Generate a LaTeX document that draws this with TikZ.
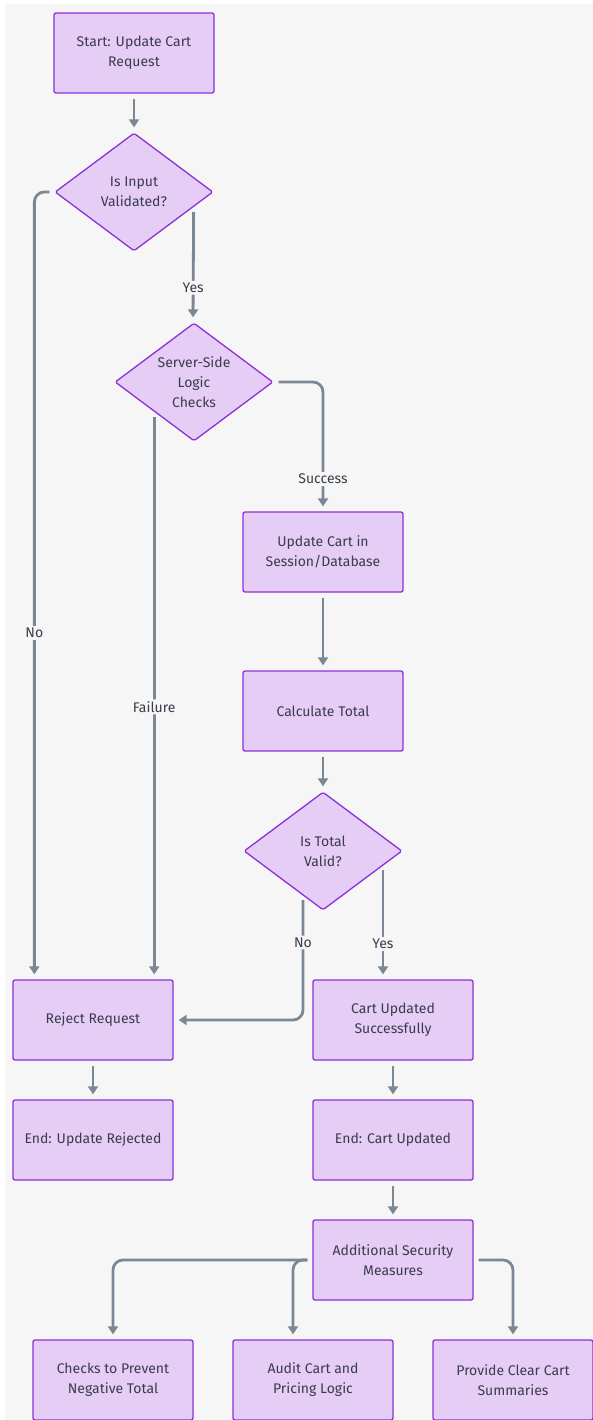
\documentclass[tikz,border=0pt]{standalone}
\usepackage{fontspec}
\setmainfont{Fira Sans}
\usepackage{xcolor}
\usetikzlibrary{shapes.geometric,arrows.meta}
\definecolor{canvas}{HTML}{F6F6F6}
\definecolor{boxfill}{HTML}{E5CDF5}
\definecolor{boxline}{HTML}{8E2FD8}
\definecolor{flowgrey}{HTML}{7B8894}
\definecolor{inkgrey}{HTML}{3A3C4A}

\tikzset{
  stepbox/.style={draw=boxline, fill=boxfill, line width=1.3pt, rounded corners=2pt,
    minimum width=160pt, minimum height=80pt, inner sep=0pt, align=center,
    text=inkgrey, font=\fontsize{14}{20}\selectfont},
  decision/.style={diamond, draw=boxline, fill=boxfill, line width=1.3pt, rounded corners=1.5pt,
    minimum width=158pt, minimum height=118pt, inner sep=0pt, aspect=1.34, align=center,
    text=inkgrey, font=\fontsize{14}{20}\selectfont},
  flow/.style={draw=flowgrey, line width=2.8pt, rounded corners=10pt,
    -{Triangle[width=10pt,length=8pt]}, shorten <=5pt, shorten >=5pt},
  flowlabel/.style={fill=canvas, text=inkgrey, inner sep=2pt, font=\fontsize{14}{16}\selectfont}
}

\begin{document}
\begin{tikzpicture}[x=1pt,y=-1pt]
		\useasboundingbox (0,0) rectangle (593,1420);
		\fill [canvas] (5,4) rectangle (593,1420);
		%
		\node [stepbox] (start) at (134,53) {Start: Update Cart\\Request};
		\node [decision] (valid) at (134,192) {Is Input\\Validated?};
		\node [decision] (server) at (194,382) {Server-Side\\Logic\\Checks};
		\node [stepbox] (update) at (323,552) {Update Cart in\\Session/Database};
		\node [stepbox] (calc) at (323,711) {Calculate Total};
		\node [decision] (total) at (323,851) {Is Total\\Valid?};
		\node [stepbox] (reject) at (93,1020) {Reject Request};
		\node [stepbox] (cartok) at (393,1020) {Cart Updated\\Successfully};
		\node [stepbox] (endrej) at (93,1140) {End: Update Rejected};
		\node [stepbox] (endcart) at (393,1140) {End: Cart Updated};
		\node [stepbox] (extra) at (393,1260) {Additional Security\\Measures};
		\node [stepbox] (negcheck) at (113,1380) {Checks to Prevent\\Negative Total};
		\node [stepbox] (audit) at (313,1380) {Audit Cart and\\Pricing Logic};
		\node [stepbox] (summary) at (513,1380) {Provide Clear Cart\\Summaries};
		%
		\draw [flow] (start.south) -- (valid.north);
		\draw [flow] ([shift={(-20,15)}]valid.east) -- ([xshift=-1pt]server.north) node [flowlabel,pos=0.7] {Yes};
		\draw [flow] (valid.west) -| ([xshift=22pt]reject.north west) node [flowlabel,pos=0.78] {No};
		\draw [flow] (server.east) -| (update.north) node [flowlabel,pos=0.875] {Success};
		\draw [flow] (server.south west) -- (server.south west |- reject.north) node [flowlabel,pos=0.52] {Failure};
		\draw [flow] (update.south) -- (calc.north);
		\draw [flow] (calc.south) -- (total.north);
		\draw [flow] ([shift={(-20,44)}]total.center) |- (reject.east) node [flowlabel,pos=0.19] {No};
		\draw [flow] ([shift={(60,14)}]total.center) -- ([xshift=-10pt]cartok.north) node [flowlabel,pos=0.69] {Yes};
		\draw [flow] (reject.south) -- (endrej.north);
		\draw [flow] (cartok.south) -- (endcart.north);
		\draw [flow] (endcart.south) -- (extra.north);
		\draw [flow] (extra.west) -| (negcheck.north);
		\draw [flow] (extra.west) -| ([xshift=-20pt]audit.north);
		\draw [flow] (extra.east) -| (summary.north);
	\end{tikzpicture}
\end{document}
